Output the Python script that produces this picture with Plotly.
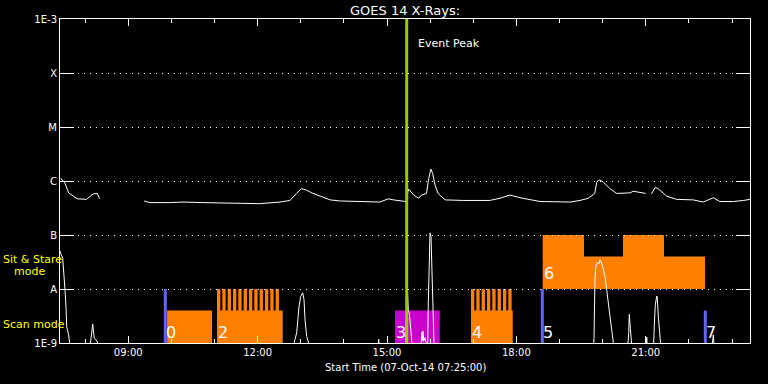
import plotly.graph_objects as go

def hrs(t):
    p = [float(v) for v in t.split(":")]
    return p[0] + p[1] / 60.0 + (p[2] / 3600.0 if len(p) > 2 else 0.0)

# ---------------- axis data ----------------
x_start, x_end = "07:25", "23:25"
x_tick_labels = ["09:00", "12:00", "15:00", "18:00", "21:00"]
y_tick_logflux = [-9, -8, -7, -6, -5, -4, -3]
y_tick_labels = ["1E-9", "A", "B", "C", "M", "X", "1E-3"]

# ---------------- GOES 14 long channel (log10 W/m^2) ----------------
long_time = ["07:26", "07:32", "07:37", "07:44", "07:49", "08:02", "08:07", "08:11", "08:17", "08:20",
             "08:50",
             "09:22", "09:30", "09:58", "10:16", "10:44", "11:21", "11:40", "12:03", "12:31", "12:45",
             "12:54", "13:01", "13:08", "13:17", "13:29", "13:41", "13:55", "14:50", "15:02", "15:09",
             "15:26", "15:30", "15:37", "15:44", "15:48", "15:55", "15:58", "16:01", "16:03:30", "16:06:40",
             "16:11", "16:21", "16:46", "17:23", "17:37", "17:51", "18:05", "18:33", "19:15", "19:28:30",
             "19:40", "19:49", "19:52", "19:56", "20:01", "20:10", "20:19:30", "20:38", "20:42:30", "21:00",
             "21:04",
             "21:08", "21:13", "21:17", "21:29", "21:43", "22:06", "22:20", "22:34", "22:43", "23:02",
             "23:16", "23:25"]
long_logflux = [-5.95, -6.04, -6.22, -6.29, -6.33, -6.34, -6.28, -6.24, -6.23, -6.33,
                None,
                -6.37, -6.40, -6.40, -6.39, -6.40, -6.41, -6.41, -6.42, -6.39, -6.36,
                -6.23, -6.14, -6.17, -6.23, -6.29, -6.35, -6.37, -6.39, -6.33, -6.35,
                -6.38, -6.15, -6.26, -6.32, -6.26, -6.23, -5.95, -5.78, -5.86, -6.07,
                -6.23, -6.35, -6.36, -6.36, -6.32, -6.26, -6.31, -6.38, -6.39, -6.36,
                -6.32, -6.23, -6.01, -5.98, -6.02, -6.14, -6.23, -6.22, -6.19, -6.23,
                None,
                -6.24, -6.12, -6.14, -6.28, -6.34, -6.35, -6.39, -6.31, -6.38, -6.38,
                -6.36, -6.34]

# ---------------- GOES 14 short channel (log10 W/m^2) ----------------
short_time = ["07:25:30", "07:26", "07:28:45", "07:30:34", "07:32", "07:33:21", "07:34:19", "07:36:33", "07:37:56", "07:39:36",
              "08:07:26", "08:09:06", "08:10:30", "08:11:20", "08:12:43", "08:15:05", "08:16:54", "08:18:34",
              "12:49:35", "12:51", "12:54:20", "12:57:30", "12:59:53", "13:02:40", "13:04:30", "13:05:55", "13:08:14", "13:10:28", "13:12:50",
              "14:47:30", "14:48:24", "14:49:20",
              "15:25:42", "15:28:12", "15:29:36", "15:31", "15:32:55", "15:34:18", "15:35:25",
              "15:47:30", "15:48:12", "15:49", "15:50", "15:51", "15:52:48", "15:54",
              "15:56:36", "15:57:24", "15:58:24", "15:58:48", "15:59:48", "16:01:12", "16:02:12", "16:03:30", "16:04:24", "16:05:18", "16:06:42",
              "19:47:18", "19:48", "19:49:18", "19:50:42", "19:52:36", "19:54:30", "19:56:18", "19:57:42", "20:00:06", "20:03:18",
              "20:05:36", "20:07:48", "20:10:12", "20:12:36", "20:14:48", "20:16:30",
              "20:35:18", "20:36:12", "20:37:06", "20:38:30", "20:39:24", "20:40:48",
              "21:00:30", "21:01:18", "21:02:10",
              "21:10:42", "21:11:48", "21:13:12", "21:15:12", "21:16", "21:17:24", "21:18:48", "21:19:48", "21:21:12",
              "22:31:48", "22:33:06", "22:34", "22:35:20"]
short_logflux = [-7.30, -7.34, -7.43, -7.71, -8.02, -8.33, -8.70, -8.82, -8.98, -9.10,
                 -9.00, -8.79, -8.65, -8.76, -8.91, -8.94, -8.98, -9.10,
                 -9.10, -8.98, -8.81, -8.33, -8.14, -8.07, -8.20, -8.57, -8.88, -8.98, -9.10,
                 -9.10, -8.93, -9.10,
                 -9.05, -7.96, -8.39, -8.45, -8.70, -9.00, -9.10,
                 -9.05, -8.80, -8.95, -8.78, -8.97, -8.90, -8.98,
                 -9.00, -8.26, -7.52, -6.97, -6.96, -7.03, -7.52, -8.26, -8.70, -9.00, -9.10,
                 -9.05, -8.91, -7.80, -7.56, -7.51, -7.54, -7.46, -7.49, -7.59, -7.77,
                 -8.02, -8.20, -8.51, -8.82, -8.99, -9.10,
                 -9.00, -8.82, -8.47, -8.73, -8.94, -9.10,
                 -9.10, -8.89, -9.10,
                 -9.10, -8.70, -8.30, -8.13, -8.15, -8.51, -8.82, -8.98, -9.10,
                 -9.10, -8.91, -8.85, -9.10]

# ---------------- observing blocks ----------------
scan_block_start = ["09:54", "11:03:26", "15:11:06", "16:56:48"]
scan_block_end = ["10:56:30", "12:34:50", "16:13:18", "17:54:54"]
scan_block_kind = ["scan", "scan", "flare", "scan"]
scan_base_logflux = -9.0
scan_top_logflux = -8.4
tooth_top_logflux = -8.0
tooth_minutes = 4.6
teeth_block2 = ["11:03:26", "11:10:51", "11:18:16", "11:25:41", "11:33:06", "11:40:31",
                "11:47:56", "11:55:21", "12:02:46", "12:10:11", "12:17:36", "12:25:01"]
teeth_block4 = ["16:56:48", "17:04:13", "17:11:38", "17:19:03", "17:26:28", "17:33:53",
                "17:41:18", "17:48:43"]

stare_start, stare_end = "18:36:36", "22:22:24"
stare_base_logflux, stare_top_logflux = -8.0, -7.4
stare_high_start = ["18:36:36", "20:28:18"]
stare_high_end = ["19:34", "21:25:18"]
stare_high_top_logflux = -7.0

marker_time = ["09:51:30", "18:36:00", "22:22:48"]
marker_top_logflux = [-8.0, -8.0, -8.4]

event_peak_time = "15:27:24"

obs_labels = ["0", "2", "3", "4", "5", "6", "7"]
obs_label_time = ["09:51:30", "11:03:26", "15:11:06", "16:56:48", "18:36:00", "18:36:36", "22:22:48"]
obs_label_base = [-9.0, -9.0, -9.0, -9.0, -9.0, -8.0, -9.0]

# ---------------- figure ----------------
ORANGE = "#ff8000"
MAGENTA = "#cc00cc"
BLUE = "#6464ff"
EVENT = "#99cc00"
kind_color = {"scan": ORANGE, "flare": MAGENTA}

fig = go.Figure()
fig.add_trace(go.Scatter(x=[hrs(t) for t in long_time], y=long_logflux, mode="lines",
                         line=dict(color="white", width=1), connectgaps=False, hoverinfo="skip"))
fig.add_trace(go.Scatter(x=[hrs(t) for t in short_time], y=short_logflux, mode="lines",
                         line=dict(color="white", width=1), hoverinfo="skip"))

shapes = []
for s, e, k in zip(scan_block_start, scan_block_end, scan_block_kind):
    shapes.append(dict(type="rect", xref="x", yref="y", x0=hrs(s), x1=hrs(e),
                       y0=scan_base_logflux, y1=scan_top_logflux,
                       fillcolor=kind_color[k], line=dict(width=0), layer="below"))
for t in teeth_block2 + teeth_block4:
    shapes.append(dict(type="rect", xref="x", yref="y", x0=hrs(t), x1=hrs(t) + tooth_minutes / 60.0,
                       y0=scan_top_logflux - 0.02, y1=tooth_top_logflux,
                       fillcolor=ORANGE, line=dict(width=0), layer="below"))
shapes.append(dict(type="rect", xref="x", yref="y", x0=hrs(stare_start), x1=hrs(stare_end),
                   y0=stare_base_logflux, y1=stare_top_logflux,
                   fillcolor=ORANGE, line=dict(width=0), layer="below"))
for s, e in zip(stare_high_start, stare_high_end):
    shapes.append(dict(type="rect", xref="x", yref="y", x0=hrs(s), x1=hrs(e),
                       y0=stare_top_logflux - 0.02, y1=stare_high_top_logflux,
                       fillcolor=ORANGE, line=dict(width=0), layer="below"))
for t, top in zip(marker_time, marker_top_logflux):
    shapes.append(dict(type="line", xref="x", yref="y", x0=hrs(t), x1=hrs(t),
                       y0=-9, y1=top, line=dict(color=BLUE, width=3), layer="above"))
shapes.append(dict(type="line", xref="x", yref="y", x0=hrs(event_peak_time), x1=hrs(event_peak_time),
                   y0=-9, y1=-3, line=dict(color=EVENT, width=3), layer="above"))

annotations = [
    dict(text="GOES 14 X-Rays:", xref="paper", yref="paper", x=0.5, y=1 + 9 / 324.0,
         xanchor="center", yanchor="middle", showarrow=False, font=dict(size=13, color="white")),
    dict(text="Start Time (07-Oct-14 07:25:00)", xref="paper", yref="paper", x=0.5, y=-25 / 324.0,
         xanchor="center", yanchor="middle", showarrow=False, font=dict(size=10, color="white")),
    dict(text="Event Peak", xref="x", yref="paper", x=hrs(event_peak_time), y=(343 - 43) / 324.0,
         xanchor="left", yanchor="middle", xshift=9, showarrow=False, font=dict(size=11, color="white")),
    dict(text="Sit & Stare", xref="paper", yref="paper", x=(1 - 60) / 690.0, y=(343 - 259) / 324.0,
         xanchor="left", yanchor="middle", showarrow=False, font=dict(size=11, color="#ffff00")),
    dict(text="mode", xref="paper", yref="paper", x=(12 - 60) / 690.0, y=(343 - 271) / 324.0,
         xanchor="left", yanchor="middle", showarrow=False, font=dict(size=11, color="#ffff00")),
    dict(text="Scan mode", xref="paper", yref="paper", x=(1 - 60) / 690.0, y=(343 - 324) / 324.0,
         xanchor="left", yanchor="middle", showarrow=False, font=dict(size=11, color="#ffff00")),
]
for lab, t, b in zip(obs_labels, obs_label_time, obs_label_base):
    annotations.append(dict(text=lab, xref="x", yref="y", x=hrs(t), y=b,
                            xanchor="left", yanchor="bottom", xshift=-1,
                            yshift=(-1 if b == -9.0 else 4),
                            showarrow=False, font=dict(size=16, color="white")))

axis_common = dict(showline=True, linecolor="white", linewidth=1, mirror="allticks",
                   ticks="inside", tickcolor="white", tickwidth=1, zeroline=False,
                   tickfont=dict(size=10, color="white"))

fig.update_layout(
    width=768, height=384,
    margin=dict(l=60, r=18, t=19, b=41),
    paper_bgcolor="black", plot_bgcolor="black",
    showlegend=False,
    font=dict(family="DejaVu Sans", color="white"),
    shapes=shapes, annotations=annotations,
    xaxis=dict(range=[hrs(x_start), hrs(x_end)], tickmode="array",
               tickvals=[hrs(t) for t in x_tick_labels], ticktext=x_tick_labels,
               ticklen=7, showgrid=False,
               minor=dict(tickmode="linear", tick0=0, dtick=1, ticks="inside", ticklen=4,
                          tickcolor="white", showgrid=False),
               **axis_common),
    yaxis=dict(range=[-9, -3], tickmode="array", tickvals=y_tick_logflux, ticktext=y_tick_labels,
               ticklen=14, showgrid=True, gridcolor="white", gridwidth=1, griddash="1px,5px",
               **axis_common),
)

fig.write_html("out.html",
               config={"displayModeBar": False, "staticPlot": True},
               post_script="document.body.style.margin='0';document.body.style.background='black';"
                           "document.body.style.overflow='hidden';")
